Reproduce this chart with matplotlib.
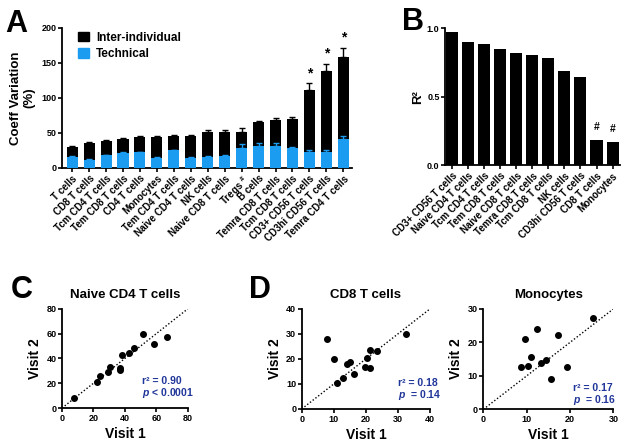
import matplotlib
matplotlib.use("Agg")
import matplotlib.pyplot as plt
from matplotlib.patches import Patch
import numpy as np

plt.rcParams['font.family'] = ['Liberation Sans', 'DejaVu Sans']
plt.rcParams['font.weight'] = 'bold'
plt.rcParams['axes.labelweight'] = 'bold'
plt.rcParams['axes.titleweight'] = 'bold'
plt.rcParams['mathtext.fontset'] = 'custom'
plt.rcParams['mathtext.it'] = 'Liberation Sans:italic:bold'
plt.rcParams['mathtext.rm'] = 'Liberation Sans:bold'

BLUE = '#1c9cf0'
DARKBLUE = '#1f3599'

# panel A: coefficient of variation
cv_cells = ["T cells", "CD8 T cells", "Tcm CD4 T cells", "Tem CD8 T cells", "CD4 T cells",
            "Monocytes", "Tem CD4 T cells", "Naive CD4 T cells", "NK cells", "Naive CD8 T cells",
            "Tregs $^{\\#}$", "B cells", "Temra CD8 T cells", "Tcm CD8 T cells", "CD3+ CD56 T cells",
            "CD3hi CD56 T cells", "Temra CD4 T cells"]
cv_inter = [30, 36, 39, 42, 44, 44, 45, 45, 52, 52, 52, 65, 69, 70.5, 112, 139, 159]
cv_inter_err = [1, 1, 1.5, 1.5, 2, 2, 1.5, 1.5, 2, 2, 5, 2.5, 2.5, 3, 9, 10, 13]
cv_tech = [16, 12, 18, 21.5, 22.5, 14.5, 25, 14.5, 16, 17.5, 29, 31, 32, 28.5, 23, 23, 41]
cv_tech_err = [1, 0.5, 1, 1, 1, 0.5, 1, 0.5, 0.5, 0.5, 5, 4, 4, 2, 2.5, 2, 5]
cv_star = [14, 15, 16]

# panel B: R squared
r2_cells = ["CD3+ CD56 T cells", "Naive CD4 T cells", "Tcm CD4 T cells", "Tem CD8 T cells",
            "Naive CD8 T cells", "Temra CD8 T cells", "Tcm CD8 T cells", "NK cells",
            "CD3hi CD56 T cells", "CD8 T cells", "Monocytes"]
r2_vals = [0.97, 0.90, 0.88, 0.85, 0.82, 0.80, 0.78, 0.69, 0.64, 0.18, 0.17]
r2_hash = [9, 10]

# panels C/D: visit 1 vs visit 2
naive_v1 = [7.8, 22.1, 24.2, 29.5, 30.5, 36.8, 36.8, 38.3, 42.5, 46.1, 51.6, 58.5, 66.5]
naive_v2 = [8.3, 20.9, 25.5, 29.3, 33.0, 32.2, 30.3, 42.4, 44.3, 48.6, 59.9, 51.8, 57.4]
cd8_v1 = [7.8, 10.0, 10.9, 13.0, 14.2, 15.2, 16.3, 19.7, 20.2, 21.2, 21.3, 23.6, 32.4]
cd8_v2 = [27.9, 20.0, 10.5, 12.5, 18.0, 18.7, 14.1, 16.7, 20.4, 16.4, 23.5, 23.3, 30.0]
mono_v1 = [8.8, 9.5, 10.2, 11.0, 12.3, 13.2, 14.5, 15.5, 17.3, 19.2, 25.2]
mono_v2 = [12.6, 20.9, 12.8, 15.5, 24.1, 13.7, 14.6, 9.2, 22.1, 12.5, 27.2]


def style(ax, size=6.5):
    for s in ['top', 'right']:
        ax.spines[s].set_visible(False)
    for s in ['left', 'bottom']:
        ax.spines[s].set_linewidth(1.3)
    ax.tick_params(width=1.2, length=3, labelsize=size, pad=1)
    for t in ax.get_xticklabels() + ax.get_yticklabels():
        t.set_fontweight('bold')


fig = plt.figure(figsize=(6.26, 4.45), dpi=100)

# ---- A ----
axA = fig.add_axes([0.099, 0.6225, 0.463, 0.3146])
x = np.arange(len(cv_cells))
axA.bar(x, cv_inter, width=0.65, color='black', zorder=2)
axA.errorbar(x, cv_inter, yerr=[np.zeros(len(x)), cv_inter_err], fmt='none',
             ecolor='black', elinewidth=1, capsize=2.5, capthick=1, zorder=2)
axA.bar(x, cv_tech, width=0.65, color=BLUE, zorder=3)
axA.errorbar(x, cv_tech, yerr=[np.zeros(len(x)), cv_tech_err], fmt='none',
             ecolor=BLUE, elinewidth=1, capsize=2.5, capthick=1, zorder=3)
for i in cv_star:
    axA.text(i, cv_inter[i] + cv_inter_err[i] + 4, '*', ha='center', va='bottom', fontsize=10)
axA.set_xlim(-0.6, 16.5)
axA.set_ylim(0, 200)
axA.set_yticks([0, 50, 100, 150, 200])
axA.set_xticks(x)
axA.set_xticklabels(cv_cells, rotation=45, ha='right', rotation_mode='anchor')
axA.set_ylabel('Coeff Variation\n(%)', fontsize=9.5, labelpad=4)
style(axA, 7)
axA.tick_params(axis='y', labelsize=6.5)
axA.legend(handles=[Patch(color='black', label='Inter-individual'),
                    Patch(color=BLUE, label='Technical')],
           loc='upper left', bbox_to_anchor=(0.02, 1.05), frameon=False, fontsize=8.5,
           handlelength=0.9, handleheight=0.9, handletextpad=0.6, labelspacing=0.35)

# ---- B ----
axB = fig.add_axes([0.711, 0.629, 0.279, 0.308])
xb = np.arange(len(r2_cells))
axB.bar(xb, r2_vals, width=0.75, color='black')
for i in r2_hash:
    axB.text(i, r2_vals[i] + 0.06, '#', ha='center', va='bottom', fontsize=7.5)
axB.set_xlim(-0.45, 10.45)
axB.set_ylim(0, 1.0)
axB.set_yticks([0.0, 0.5, 1.0])
axB.set_xticks(xb)
axB.set_xticklabels(r2_cells, rotation=45, ha='right', rotation_mode='anchor')
axB.set_ylabel('R²', fontsize=9.5, labelpad=2)
style(axB, 7)
axB.tick_params(axis='y', labelsize=6.5)


def scatter_panel(rect, v1, v2, lim, ticks, title, r2, ptxt, tpos):
    ax = fig.add_axes(rect)
    ax.plot([0, lim], [0, lim], ls=(0, (1, 1.5)), color='black', lw=1, zorder=1)
    ax.scatter(v1, v2, s=16, color='black', zorder=2)
    ax.set_xlim(0, lim)
    ax.set_ylim(0, lim)
    ax.set_xticks(ticks)
    ax.set_yticks(ticks)
    ax.set_title(title, fontsize=9.5, pad=8)
    ax.set_xlabel('Visit 1', fontsize=10, labelpad=3)
    ax.set_ylabel('Visit 2', fontsize=10, labelpad=3)
    ax.text(tpos[0], tpos[1], 'r² = ' + r2, transform=ax.transAxes, color=DARKBLUE,
            fontsize=7.5, va='center', ha='left')
    ax.text(tpos[0], tpos[1] - 0.12, ptxt, transform=ax.transAxes, color=DARKBLUE,
            fontsize=7.5, va='center', ha='left')
    style(ax, 6.5)
    return ax


scatter_panel([0.099, 0.083, 0.201, 0.223], naive_v1, naive_v2, 80, [0, 20, 40, 60, 80],
              'Naive CD4 T cells', '0.90', '$p$ < 0.0001', (0.635, 0.275))
scatter_panel([0.482, 0.081, 0.205, 0.225], cd8_v1, cd8_v2, 40, [0, 10, 20, 30, 40],
              'CD8 T cells', '0.18', '$p$  = 0.14', (0.75, 0.263))
scatter_panel([0.772, 0.080, 0.208, 0.226], mono_v1, mono_v2, 30, [0, 10, 20, 30],
              'Monocytes', '0.17', '$p$  = 0.16', (0.69, 0.21))

# panel letters
for lab, px, py in [('A', 5, 32), ('B', 402, 30), ('C', 11, 298), ('D', 249, 298)]:
    fig.text(px / 626, 1 - py / 445, lab, fontsize=22, fontweight='bold', ha='left', va='baseline')

fig.savefig('out.png', dpi=100)
